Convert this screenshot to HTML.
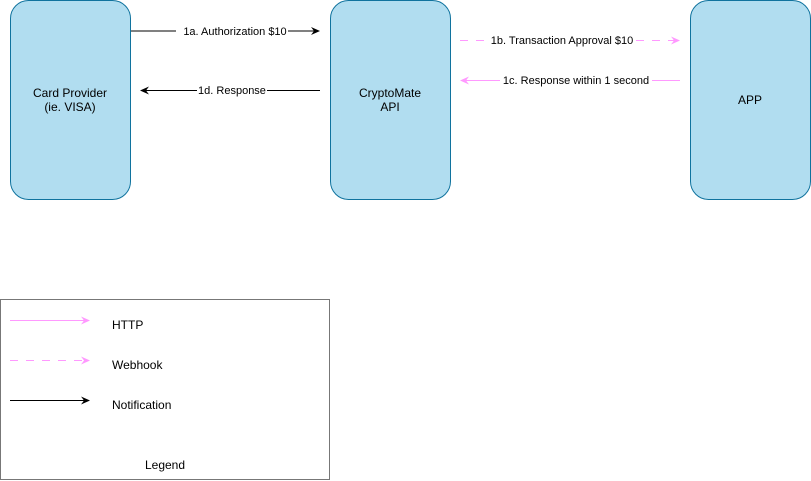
<!DOCTYPE html>
<html><head><style>body{margin:0;background:#fff}svg{display:block}text{font-family:"Liberation Sans",sans-serif;font-size:11px;fill:#000}</style></head><body>
<svg width="811" height="481" viewBox="0 0 811 481">
<defs>
<marker id="ab" markerWidth="10" markerHeight="10" refX="8" refY="5" orient="auto" markerUnits="userSpaceOnUse"><path d="M0,1 L9,5 L0,9 L3,5 Z" fill="#000"/></marker>
<marker id="ap" markerWidth="10" markerHeight="10" refX="8" refY="5" orient="auto" markerUnits="userSpaceOnUse"><path d="M0,1 L9,5 L0,9 L3,5 Z" fill="#ff99ff"/></marker>
</defs>
<g fill="#b1ddf0" stroke="#10739e" stroke-width="1">
<rect x="10.5" y="0.5" width="120" height="199" rx="18"/>
<rect x="330.5" y="0.5" width="120" height="199" rx="18"/>
<rect x="690.5" y="0.5" width="120" height="199" rx="18"/>
</g>
<text x="70" y="97" text-anchor="middle" font-size="12" style="font-size:12px">Card Provider</text>
<text x="70" y="111" text-anchor="middle" style="font-size:12px">(ie. VISA)</text>
<text x="390" y="97" text-anchor="middle" style="font-size:12px">CryptoMate</text>
<text x="390" y="111" text-anchor="middle" style="font-size:12px">API</text>
<text x="750" y="104" text-anchor="middle" style="font-size:12px">APP</text>
<line x1="131" y1="31" x2="319" y2="31" stroke="#000" marker-end="url(#ab)"/>
<rect x="176" y="24" width="112" height="14" fill="#fff"/>
<text x="235" y="35" text-anchor="middle">1a. Authorization $10</text>
<line x1="460" y1="40.5" x2="679" y2="40.5" stroke="#ff99ff" stroke-dasharray="8 8" marker-end="url(#ap)"/>
<rect x="488" y="33" width="145" height="14" fill="#fff"/>
<text x="562" y="44" text-anchor="middle">1b. Transaction Approval $10</text>
<line x1="680" y1="80.5" x2="461" y2="80.5" stroke="#ff99ff" marker-end="url(#ap)"/>
<rect x="500" y="73" width="152" height="14" fill="#fff"/>
<text x="576" y="84" text-anchor="middle">1c. Response within 1 second</text>
<line x1="320" y1="90.5" x2="141" y2="90.5" stroke="#000" marker-end="url(#ab)"/>
<rect x="197" y="83" width="70" height="14" fill="#fff"/>
<text x="232" y="94" text-anchor="middle">1d. Response</text>
<rect x="0.5" y="299.5" width="329" height="180" fill="#fff" stroke="#777" stroke-width="1"/>
<line x1="10" y1="320.5" x2="89" y2="320.5" stroke="#ff99ff" marker-end="url(#ap)"/>
<line x1="10" y1="360.5" x2="89" y2="360.5" stroke="#ff99ff" stroke-dasharray="8 8" marker-end="url(#ap)"/>
<line x1="10" y1="400.5" x2="89" y2="400.5" stroke="#000" marker-end="url(#ab)"/>
<text x="112" y="329" style="font-size:12px">HTTP</text>
<text x="112" y="369" style="font-size:12px">Webhook</text>
<text x="112" y="409" style="font-size:12px">Notification</text>
<text x="165" y="469" text-anchor="middle" style="font-size:12px">Legend</text>
</svg>
</body></html>
